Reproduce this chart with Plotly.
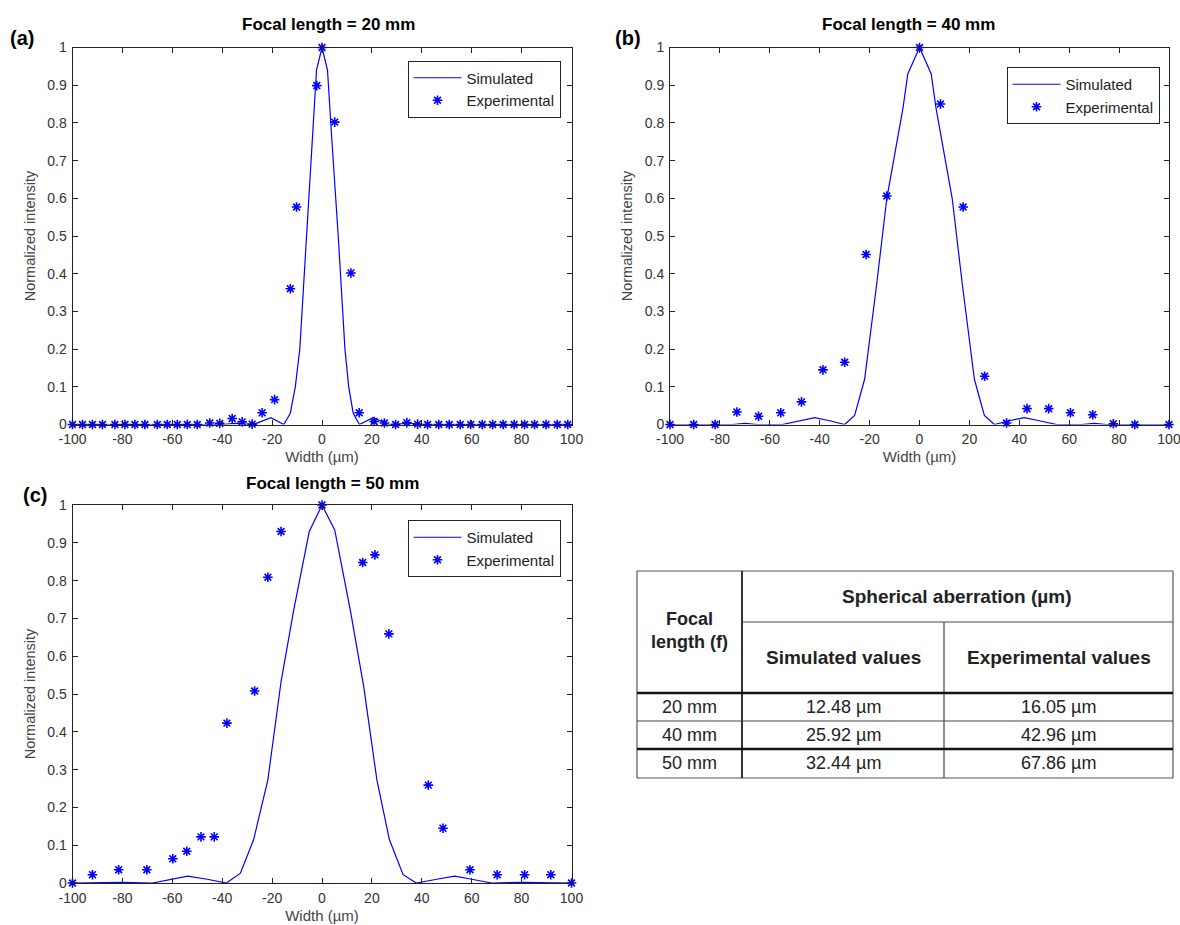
import plotly.graph_objects as go

W, H = 1180, 925
FONT = "Liberation Sans, Arial, sans-serif"
BLUE = "rgb(0,0,255)"

# ---------------- data ----------------
panel_labels = ["(a)", "(b)", "(c)"]
panel_titles = ["Focal length = 20 mm", "Focal length = 40 mm", "Focal length = 50 mm"]

x_tick_vals = [-100, -80, -60, -40, -20, 0, 20, 40, 60, 80, 100]
x_tick_text = ["-100", "-80", "-60", "-40", "-20", "0", "20", "40", "60", "80", "100"]
y_tick_vals = [0, 0.1, 0.2, 0.3, 0.4, 0.5, 0.6, 0.7, 0.8, 0.9, 1]
y_tick_text = ["0", "0.1", "0.2", "0.3", "0.4", "0.5", "0.6", "0.7", "0.8", "0.9", "1"]

# (a) f = 20 mm
a_sim_x = [-100, -40, -35, -27.5, -20.5, -15.3, -12.7, -10.7, -8.9, -6.3, -4, -2.2, 0,
           2.2, 4, 6.5, 9.2, 10.7, 12.5, 15, 20.5, 26.5, 35, 40, 100]
a_sim_y = [0, 0, 0.003, 0, 0.018, 0, 0.03, 0.1, 0.2, 0.5, 0.75, 0.94, 1,
           0.94, 0.75, 0.5, 0.2, 0.1, 0.03, 0, 0.018, 0, 0.003, 0, 0]
a_exp_x = [-100, -96, -92, -88, -83, -79, -75, -71, -66, -62, -58, -54, -50, -45, -41,
           -36, -32, -28, -24, -19, -12.7, -10.2, -2.1, 0, 5.1, 11.6, 14.9, 20.9, 25,
           29.5, 34, 38.3, 42.3, 46.8, 51, 55.4, 59.6, 64.2, 68.4, 72.6, 77, 81.2, 85.2,
           89.8, 94.3, 98.5]
a_exp_y = [0, 0, 0, 0, 0, 0, 0, 0, 0, 0, 0, 0, 0, 0.004, 0.003,
           0.016, 0.007, 0.001, 0.031, 0.066, 0.36, 0.577, 0.899, 1.0, 0.802, 0.402, 0.031, 0.008, 0.004,
           0, 0.005, 0.001, 0, 0, 0, 0, 0, 0, 0, 0, 0, 0, 0,
           0, 0, 0]

# (b) f = 40 mm
b_sim_x = [-100, -75, -70, -65, -55, -48, -42, -36, -30, -26, -22, -17.2, -13.1, -6.6, -4.7, 0,
           4.7, 6.6, 13.1, 17.2, 22, 26, 30, 36, 42, 48, 55, 65, 70, 75, 100]
b_sim_y = [0, 0, 0.003, 0, 0, 0.01, 0.018, 0.01, 0, 0.024, 0.12, 0.37, 0.6, 0.84, 0.93, 1,
           0.93, 0.84, 0.6, 0.37, 0.12, 0.024, 0, 0.01, 0.018, 0.01, 0, 0, 0.003, 0, 0]
b_exp_x = [-100, -90.5, -81.9, -73.2, -64.5, -55.6, -47.3, -38.7, -30.0, -21.4, -13.1, 0,
           8.4, 17.5, 26.1, 34.9, 43.1, 51.8, 60.5, 69.4, 77.7, 86.3, 100]
b_exp_y = [0, 0, 0, 0.033, 0.022, 0.031, 0.06, 0.145, 0.165, 0.451, 0.606, 1.0,
           0.85, 0.577, 0.128, 0.004, 0.042, 0.042, 0.031, 0.026, 0.002, 0, 0]

# (c) f = 50 mm
c_sim_x = [-100, -80, -68, -60, -53.8, -46, -38.3, -32.7, -27.4, -21.7, -16.4, -11.4, -5.1, 0,
           5.1, 11.4, 16.7, 22, 27, 32.5, 37.8, 46, 53.2, 60, 68, 80, 100]
c_sim_y = [0, 0.002, 0, 0.01, 0.018, 0.01, 0, 0.026, 0.115, 0.273, 0.533, 0.72, 0.93, 1,
           0.934, 0.72, 0.52, 0.273, 0.115, 0.022, 0, 0.01, 0.018, 0.01, 0, 0.002, 0]
c_exp_x = [-100, -92.0, -81.5, -70.2, -59.8, -54.2, -48.5, -43.2, -38.1, -27.0, -21.7, -16.4, 0,
           16.3, 21.2, 26.8, 42.6, 48.5, 59.3, 70.2, 81.2, 91.7, 100]
c_exp_y = [0, 0.022, 0.035, 0.035, 0.064, 0.084, 0.122, 0.122, 0.423, 0.508, 0.809, 0.93, 1.0,
           0.848, 0.868, 0.659, 0.259, 0.145, 0.035, 0.022, 0.022, 0.022, 0]

# table
table_title = "Spherical aberration (µm)"
table_row_header = ["Focal", "length (f)"]
table_col_headers = ["Simulated values", "Experimental values"]
focal_lengths = ["20 mm", "40 mm", "50 mm"]
sim_values = [12.48, 25.92, 32.44]
exp_values = [16.05, 42.96, 67.86]


# ---------------- helpers ----------------
def px(p):
    return p / W


def py(p):
    return 1 - p / H


panels = [
    dict(xd=[px(72.5), px(571.5)], yd=[py(424.5), py(47.5)], sx=a_sim_x, sy=a_sim_y, ex=a_exp_x, ey=a_exp_y,
         title_xy=(328, 25), label_xy=(22, 38), legend_xy=(560.5, 60.5)),
    dict(xd=[px(670), px(1169)], yd=[py(424.5), py(47.5)], sx=b_sim_x, sy=b_sim_y, ex=b_exp_x, ey=b_exp_y,
         title_xy=(908, 25), label_xy=(628, 38), legend_xy=(1159.5, 67)),
    dict(xd=[px(72.5), px(571.5)], yd=[py(883), py(505)], sx=c_sim_x, sy=c_sim_y, ex=c_exp_x, ey=c_exp_y,
         title_xy=(332, 483), label_xy=(35, 495), legend_xy=(560.5, 520)),
]

fig = go.Figure()
annotations = []
shapes = []
layout = dict(
    width=W, height=H, autosize=False,
    margin=dict(l=0, r=0, t=0, b=0, autoexpand=False),
    paper_bgcolor="white", plot_bgcolor="white",
    font=dict(family=FONT, size=14, color="#222"),
)

for i, p in enumerate(panels):
    n = "" if i == 0 else str(i + 1)
    xa, ya = "x" + n, "y" + n
    leg = "legend" + n
    fig.add_trace(go.Scatter(
        x=p["sx"], y=p["sy"], mode="lines", name="Simulated",
        line=dict(color=BLUE, width=1.2), xaxis=xa, yaxis=ya, legend=leg))
    fig.add_trace(go.Scatter(
        x=p["ex"], y=p["ey"], mode="markers", name="Experimental",
        marker=dict(symbol="asterisk-open", size=8, color=BLUE, line=dict(color=BLUE, width=1.6)),
        cliponaxis=False, xaxis=xa, yaxis=ya, legend=leg))

    common = dict(
        showline=True, linecolor="#222", linewidth=1, mirror="ticks",
        ticks="inside", ticklen=5, tickwidth=1, tickcolor="#222",
        showgrid=False, zeroline=False, automargin=False,
        ticklabeloverflow="allow",
        tickfont=dict(family=FONT, size=14, color="#333"),
    )
    layout["xaxis" + n] = dict(
        common, domain=p["xd"], anchor=ya, range=[-100, 100],
        tickmode="array", tickvals=x_tick_vals, ticktext=x_tick_text,
        ticklabelstandoff=2,
        title=dict(text="Width (µm)", font=dict(family=FONT, size=15, color="#444"), standoff=5),
    )
    layout["yaxis" + n] = dict(
        common, domain=p["yd"], anchor=xa, range=[0, 1],
        tickmode="array", tickvals=y_tick_vals, ticktext=y_tick_text,
        ticklabelstandoff=2,
        title=dict(text="Normalized intensity", font=dict(family=FONT, size=14.5, color="#444"), standoff=8),
    )
    lx, ly = p["legend_xy"]
    layout[leg] = dict(
        x=px(lx), y=py(ly), xanchor="right", yanchor="top",
        bordercolor="#222", borderwidth=1, bgcolor="white",
        font=dict(family=FONT, size=15, color="#222"),
        itemwidth=48, tracegroupgap=0,
    )
    tx, ty = p["title_xy"]
    annotations.append(dict(
        x=px(tx), y=py(ty), xref="paper", yref="paper", text="<b>" + panel_titles[i] + "</b>",
        showarrow=False, xanchor="center", yanchor="middle",
        font=dict(family=FONT, size=17, color="black")))
    bx, by = p["label_xy"]
    annotations.append(dict(
        x=px(bx), y=py(by), xref="paper", yref="paper", text="<b>" + panel_labels[i] + "</b>",
        showarrow=False, xanchor="center", yanchor="middle",
        font=dict(family=FONT, size=20, color="black")))

# ---------------- table (drawn with shapes + text) ----------------
TL, TR, TT, TB = 637, 1173, 571, 778
C1, C2 = 742, 944
R_HSPLIT, R_HEAD, R1, R2 = 622, 693, 721, 749


def hline(x0, x1, y, w, c="#333"):
    shapes.append(dict(type="line", xref="paper", yref="paper", x0=px(x0), x1=px(x1), y0=py(y), y1=py(y),
                       line=dict(color=c, width=w)))


def vline(x, y0, y1, w, c="#333"):
    shapes.append(dict(type="line", xref="paper", yref="paper", x0=px(x), x1=px(x), y0=py(y0), y1=py(y1),
                       line=dict(color=c, width=w)))


hline(TL, TR, TT, 1.2, "#555")
hline(TL, TR, TB, 1.2, "#555")
vline(TL, TT, TB, 1.2, "#555")
vline(TR, TT, TB, 1.2, "#555")
vline(C1, TT, TB, 2)
vline(C2, R_HSPLIT, TB, 1.2, "#444")
hline(C1, TR, R_HSPLIT, 1.2, "#444")
hline(TL, TR, R_HEAD, 2.5, "#111")
hline(TL, TR, R1, 1.2, "#444")
hline(TL, TR, R2, 2.5, "#111")


def txt(x, y, s, bold=False, size=18):
    annotations.append(dict(
        x=px(x), y=py(y), xref="paper", yref="paper",
        text=("<b>%s</b>" % s) if bold else s, showarrow=False,
        xanchor="center", yanchor="middle",
        font=dict(family=FONT, size=size, color="#222")))


txt((C1 + TR) / 2, 596, table_title, bold=True, size=19)
txt((TL + C1) / 2, 619, table_row_header[0], bold=True)
txt((TL + C1) / 2, 642, table_row_header[1], bold=True)
txt((C1 + C2) / 2, 657, table_col_headers[0], bold=True, size=19)
txt((C2 + TR) / 2, 657, table_col_headers[1], bold=True, size=19)
row_ys = [707, 735, 763]
for k in range(len(focal_lengths)):
    txt((TL + C1) / 2, row_ys[k], focal_lengths[k])
    txt((C1 + C2) / 2, row_ys[k], "%.2f µm" % sim_values[k])
    txt((C2 + TR) / 2, row_ys[k], "%.2f µm" % exp_values[k])

layout["annotations"] = annotations
layout["shapes"] = shapes
fig.update_layout(**layout)

fig.write_html("out.html")
